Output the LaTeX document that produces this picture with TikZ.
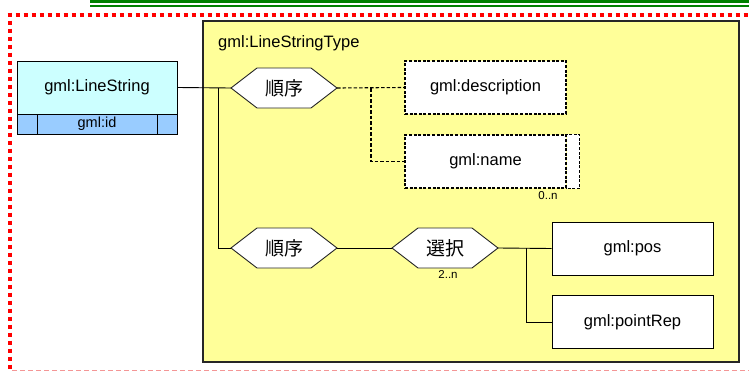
\documentclass[tikz,border=0pt]{standalone}
\usepackage{fontspec}
\setmainfont{Liberation Sans}
\newfontfamily\cjkfont{Noto Sans CJK JP}
\begin{document}
\begin{tikzpicture}[x=1pt,y=-1pt,
  lbl/.style={font=\fontsize{16.5}{19}\selectfont, inner sep=0},
  small/.style={font=\fontsize{11.5}{13}\selectfont, inner sep=0},
  elem/.style={draw=black, fill=white, line width=1pt, minimum width=161pt, minimum height=53pt, inner sep=0, font=\fontsize{16.5}{19}\selectfont},
  optelem/.style={elem, line width=1.2pt, dash pattern=on 3pt off 1.6pt},
  link/.style={draw=black, line width=0.9pt},
  optlink/.style={link, line width=1.1pt, dash pattern=on 3.5pt off 2pt},
  hexline/.style={draw=black!85, fill=white, line width=0.9pt, line join=miter},
  hexlabel/.style={minimum width=106pt, minimum height=40pt, inner sep=0, font=\cjkfont\fontsize{19}{22}\selectfont}
]
\newcommand{\hexagonnode}[4]{%
  \filldraw[hexline] (#2-53,#3) -- (#2-27,#3-20) -- (#2+27,#3-20) -- (#2+53,#3)
    -- (#2+27,#3+20) -- (#2-27,#3+20) -- cycle;
  \node[hexlabel] (#1) at (#2,#3) {#4};}

\useasboundingbox (0,0) rectangle (749,372);
\fill[white] (0,0) rectangle (749,372);

% green rules along the top
\draw[draw={rgb,255:red,0;green,128;blue,0}, line width=3.3pt] (90,1.65) -- (749,1.65);
\draw[draw={rgb,255:red,0;green,128;blue,0}, line width=2pt] (90,6.3) -- (749,6.3);

% dotted red frame with its light dashed lower edge
\draw[red, line width=4pt, dash pattern=on 4pt off 4pt] (7.5,14.7) -- (749,14.7);
\draw[red, line width=4pt, dash pattern=on 4pt off 4pt] (9.5,12.7) -- (9.5,372);
\draw[draw={rgb,255:red,244;green,150;blue,150}, line width=1.2pt, dash pattern=on 5pt off 3pt] (12,370.6) -- (749,370.6);

% complex type area
\filldraw[fill={rgb,255:red,255;green,255;blue,153}, draw=black!85, line width=1.2pt] (203,21) rectangle (739,362);
\node[lbl, anchor=base west] (typename) at (218,47) {gml:LineStringType};

% global element with its attribute row
\node[draw=black, line width=1pt, fill={rgb,255:red,204;green,255;blue,255}, minimum width=160pt, minimum height=53pt, inner sep=0, font=\fontsize{16.5}{19}\selectfont] (ls) at (97,87.5) {gml:LineString};
\node[draw=black, line width=1pt, fill={rgb,255:red,153;green,204;blue,255}, minimum width=160pt, minimum height=20pt, inner sep=0] (attrrow) at (97,124) {};
\node[draw=black, line width=1pt, minimum width=120pt, minimum height=20pt, inner sep=0, font=\fontsize{14.5}{16}\selectfont] (lsid) at (97,124) {gml:id};

% compositors
\hexagonnode{seq1}{284}{88}{順序}
\hexagonnode{seq2}{284}{248}{順序}
\hexagonnode{choice}{445}{248}{選択}
\node[small] (mult2) at (448,274.5) {2..n};

% child elements
\node[optelem] (desc) at (485.5,87.5) {gml:description};
\node[optelem] (name) at (485.5,161.5) {gml:name};
\draw[optelem] (name.north east) rectangle ([xshift=13pt]name.south east);
\node[small] (mult1) at (548,196) {0..n};
\node[elem] (pos) at (632.5,248.5) {gml:pos};
\node[elem] (rep) at (632.5,322) {gml:pointRep};

% connectors
\coordinate (jroot) at (218,88);
\coordinate (jseq) at (371,88);
\coordinate (jchoice) at (526,248);
\draw[link] (ls.east) -- (seq1.west);
\draw[link] (jroot) |- (seq2.west);
\draw[optlink] (seq1.east) -- (desc.west);
\draw[optlink] (jseq) |- (name.west);
\draw[link] (seq2.east) -- (choice.west);
\draw[link] (choice.east) -- (pos.west);
\draw[link] (jchoice) |- (rep.west);
\end{tikzpicture}
\end{document}
